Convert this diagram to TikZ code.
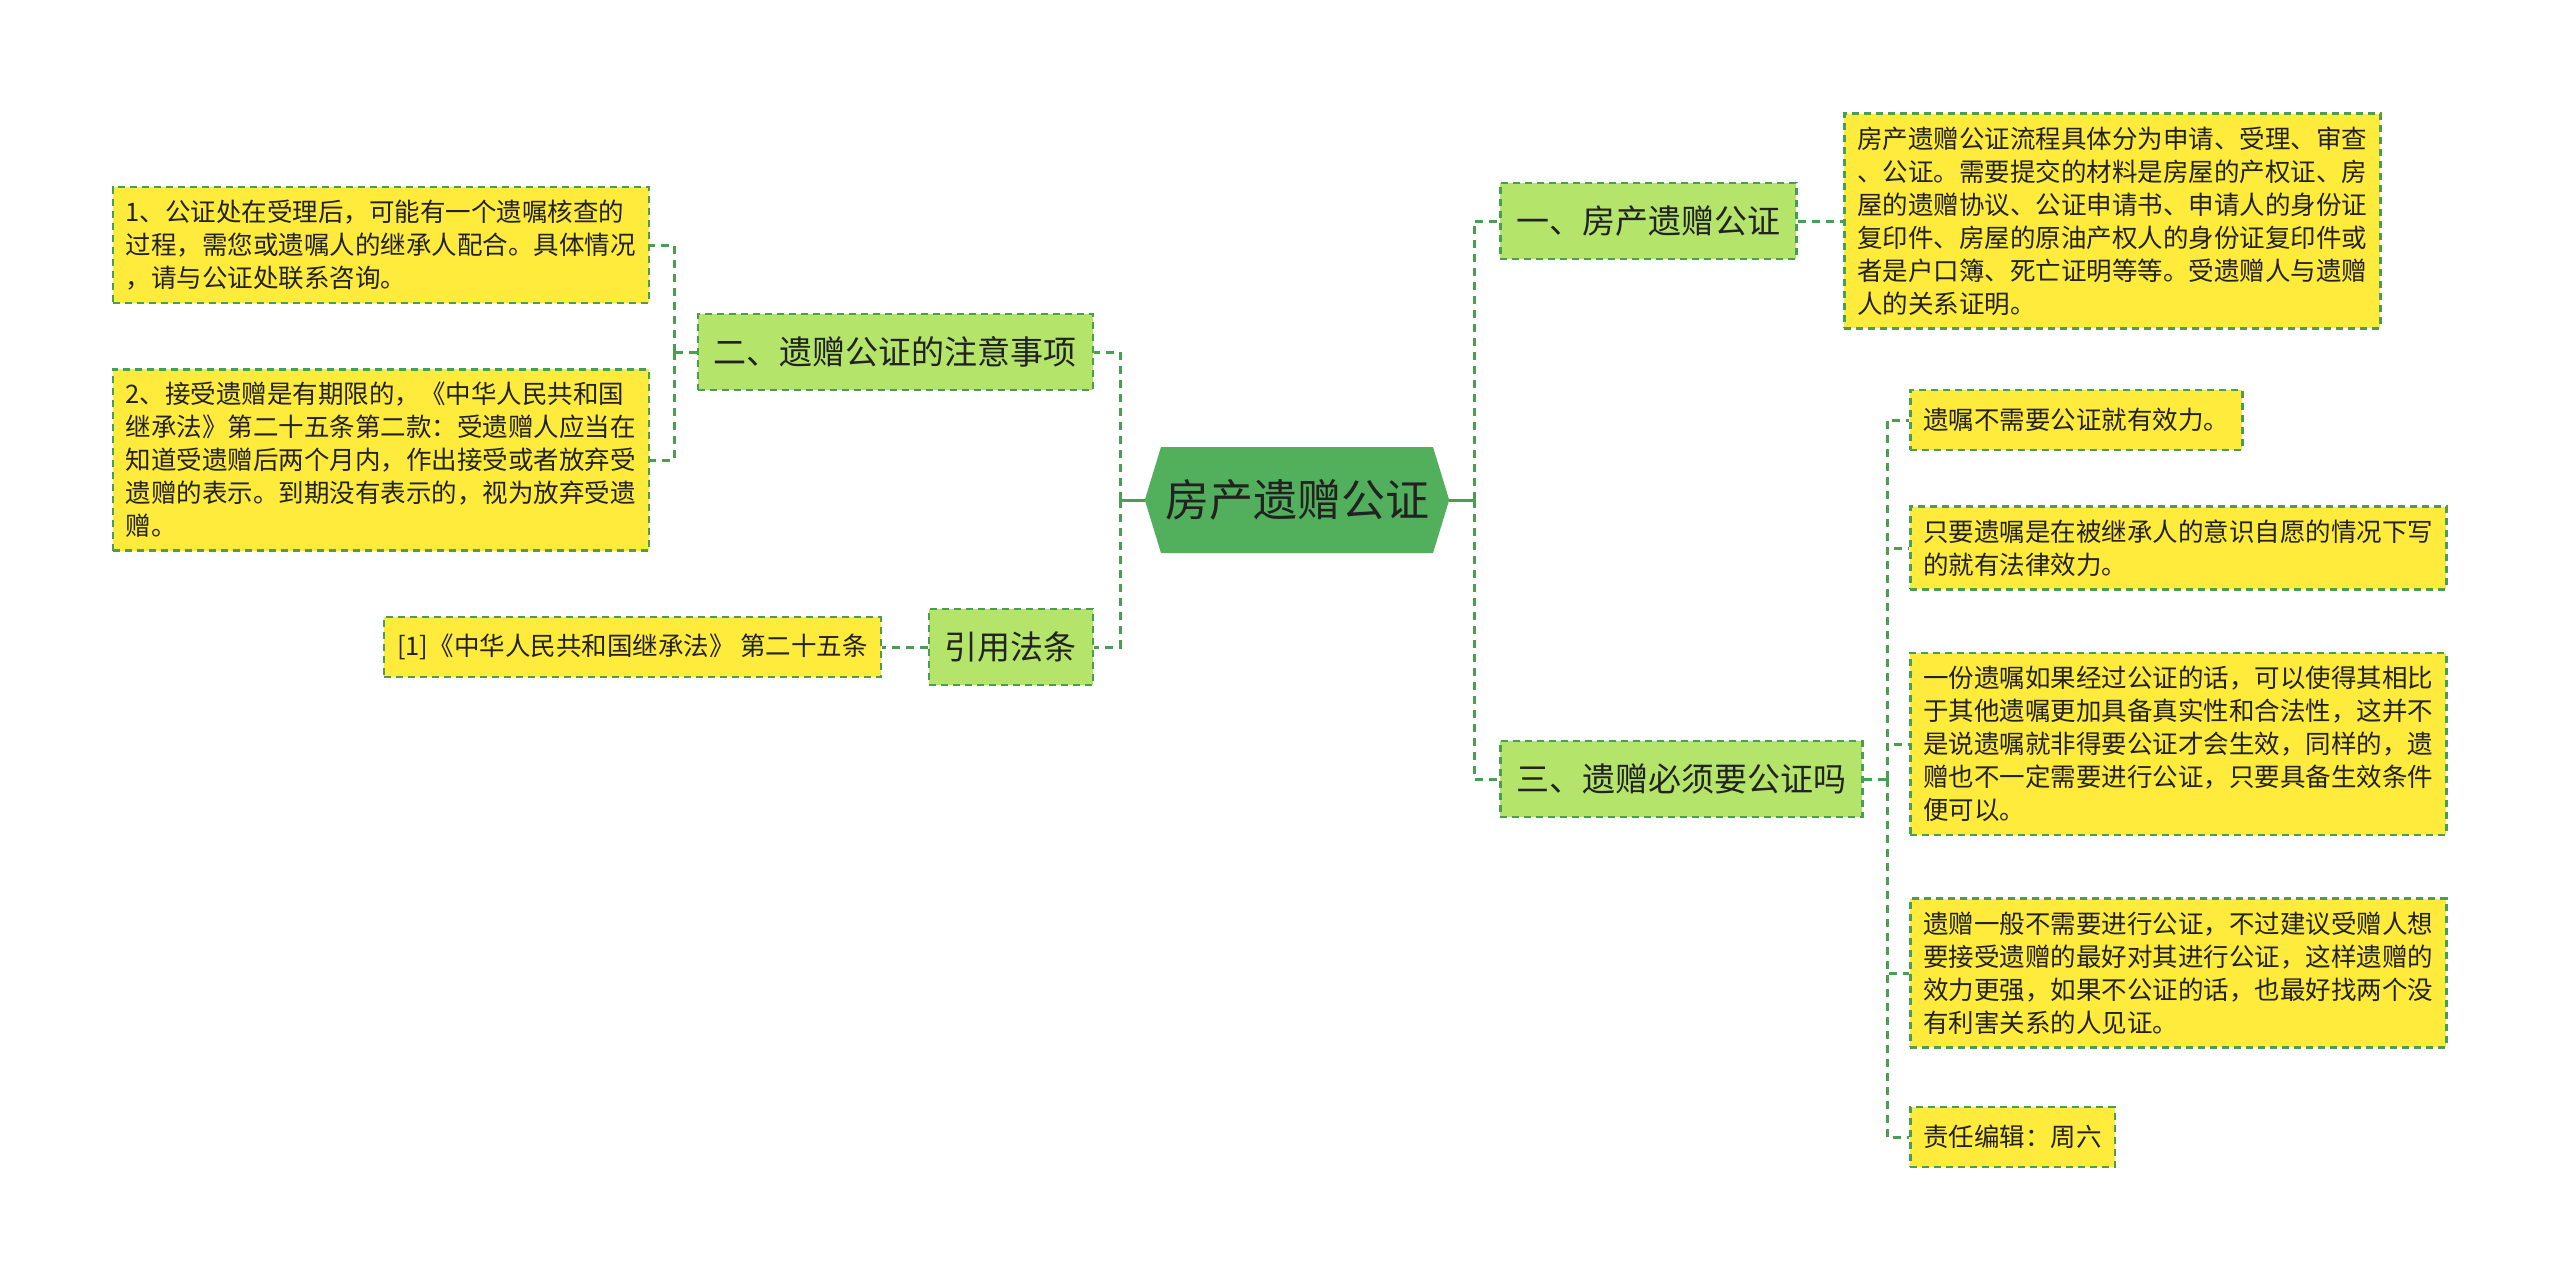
\documentclass[tikz,border=0pt]{standalone}
\usepackage{fontspec}
\setmainfont{Noto Sans CJK SC}
\usepackage{tikz}
\usetikzlibrary{shapes.symbols}
\definecolor{stgreen}{HTML}{52B05C}
\definecolor{stlime}{HTML}{B5E46B}
\definecolor{styellow}{HTML}{FFEB3B}
\definecolor{stline}{HTML}{4A9E4F}
\definecolor{sttext}{HTML}{222222}

\begin{document}
\begin{tikzpicture}[x=1pt, y=-1pt,
    root/.style={signal, signal to=east and west, signal pointer angle=146,
      fill=stgreen, text=sttext, font=\fontsize{44}{44}\selectfont,
      minimum height=106, minimum width=275, inner xsep=4},
    topic/.style={draw=stline, line width=2.5, dash pattern=on 7 off 5, fill=stlime,
      text=sttext, font=\fontsize{33}{33}\selectfont, inner xsep=16, minimum height=76},
    leaf/.style={draw=stline, line width=2.5, dash pattern=on 7 off 5, fill=styellow,
      text=sttext, font=\fontsize{25.5}{33}\selectfont, align=left,
      inner xsep=13, inner ysep=13, minimum height=60},
    link/.style={stline, line width=3, dash pattern=on 8 off 6},
    stem/.style={stline, line width=3}]
  \useasboundingbox (0,0) rectangle (2560,1278);

  \node[root] (root) at (1297,500) {房产遗赠公证};

  \node[topic, anchor=west] (b1) at (1499,221) {一、房产遗赠公证};
  \node[topic, anchor=west] (b3) at (1499,779) {三、遗赠必须要公证吗};
  \node[topic, anchor=east] (b2) at (1094,352) {二、遗赠公证的注意事项};
  \node[topic, anchor=east] (b4) at (1094,647) {引用法条};

  \node[leaf, anchor=west] (t1) at (1843,221) {房产遗赠公证流程具体分为申请、受理、审查\\、公证。需要提交的材料是房屋的产权证、房\\屋的遗赠协议、公证申请书、申请人的身份证\\复印件、房屋的原油产权人的身份证复印件或\\者是户口簿、死亡证明等等。受遗赠人与遗赠\\人的关系证明。};

  \node[leaf, anchor=west] (c1) at (1909,420) {遗嘱不需要公证就有效力。};
  \node[leaf, anchor=west] (c2) at (1909,548) {只要遗嘱是在被继承人的意识自愿的情况下写\\的就有法律效力。};
  \node[leaf, anchor=west] (c3) at (1909,744) {一份遗嘱如果经过公证的话，可以使得其相比\\于其他遗嘱更加具备真实性和合法性，这并不\\是说遗嘱就非得要公证才会生效，同样的，遗\\赠也不一定需要进行公证，只要具备生效条件\\便可以。};
  \node[leaf, anchor=west] (c4) at (1909,973) {遗赠一般不需要进行公证，不过建议受赠人想\\要接受遗赠的最好对其进行公证，这样遗赠的\\效力更强，如果不公证的话，也最好找两个没\\有利害关系的人见证。};
  \node[leaf, anchor=west] (c5) at (1909,1137) {责任编辑：周六};

  \node[leaf, anchor=east] (l1) at (650,245) {1、公证处在受理后，可能有一个遗嘱核查的\\过程，需您或遗嘱人的继承人配合。具体情况\\，请与公证处联系咨询。};
  \node[leaf, anchor=east] (l2) at (650,460) {2、接受遗赠是有期限的，《中华人民共和国\\继承法》第二十五条第二款：受遗赠人应当在\\知道受遗赠后两个月内，作出接受或者放弃受\\遗赠的表示。到期没有表示的，视为放弃受遗\\赠。};
  \node[leaf, anchor=east] (cite) at (882,647) {[1]《中华人民共和国继承法》 第二十五条};

  \coordinate (rj) at (1474,500);
  \coordinate (lj) at (1120,500);
  \coordinate (cj) at (1887,779);
  \coordinate (bj) at (674,352);

  \draw[stem] (root.east) -- (rj);
  \draw[link] (rj) |- (b1.west);
  \draw[link] (rj) |- (b3.west);
  \draw[stem] (root.west) -- (lj);
  \draw[link] (lj) |- (b2.east);
  \draw[link] (lj) |- (b4.east);

  \draw[link] (b1.east) -- (t1.west);
  \draw[link] (b4.west) -- (cite.east);

  \draw[link] (b3.east) -- (cj);
  \foreach \n in {c1,c2,c3,c4,c5}
    \draw[link] (cj) |- (\n.west);

  \draw[link] (b2.west) -- (bj);
  \draw[link] (bj) |- (l1.east);
  \draw[link] (bj) |- (l2.east);
\end{tikzpicture}
\end{document}
